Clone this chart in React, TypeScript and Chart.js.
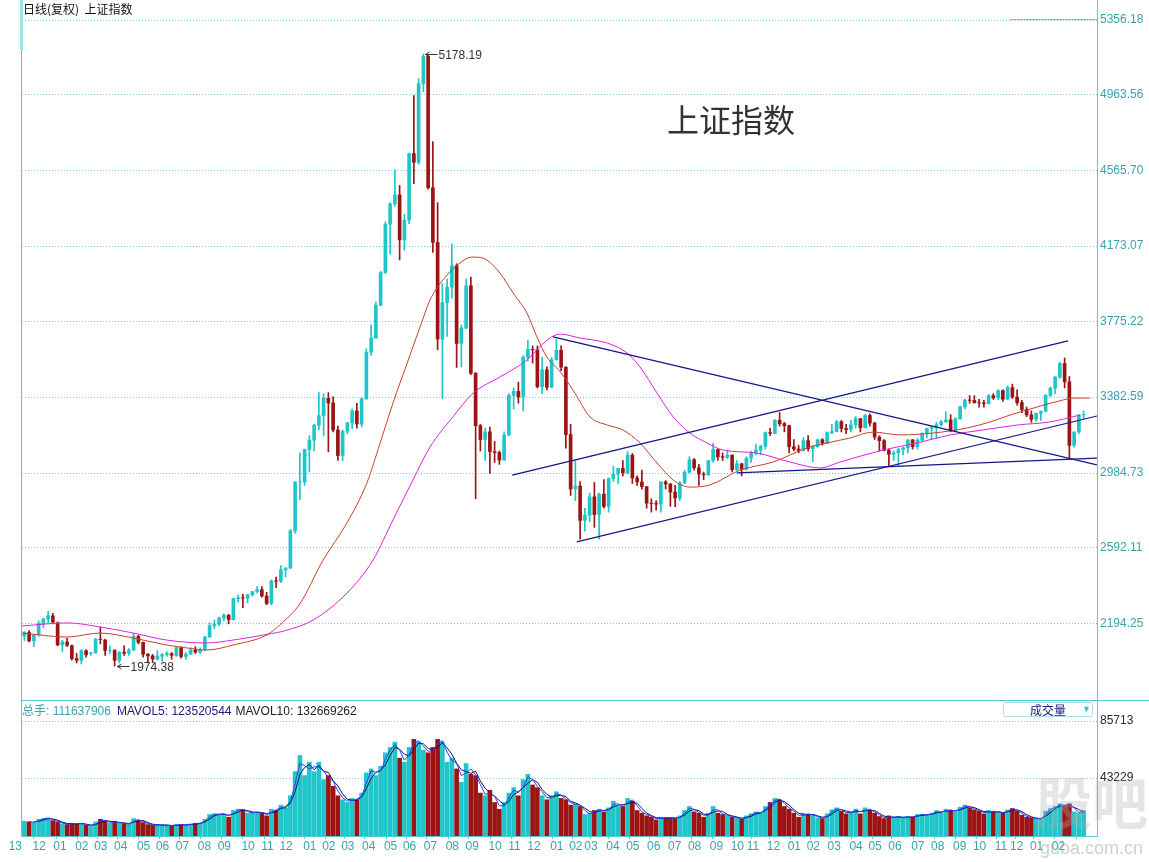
import React, { useEffect, useRef } from 'react';
import { Chart, registerables } from 'chart.js';
Chart.register(...registerables);

// ---- weekly candles (Oct 2013 - Feb 2018) ----
const OPEN = [
  2131,2150,2106,2140,2195,2220,2237,2200,2085,2100,
  2080,2013,2004,2054,2040,2045,2115,2110,2056,2057,
  2004,2047,2041,2058,2130,2098,2036,2027,2011,2026,
  2034,2039,2030,2070,2024,2036,2059,2047,2059,2126,
  2185,2194,2226,2240,2217,2327,2331,2329,2347,2364,
  2374,2341,2302,2420,2418,2478,2487,2682,2937,2938,
  3108,3157,3235,3285,3376,3351,3210,3076,3203,3247,
  3310,3241,3373,3617,3691,3863,4034,4287,4393,4441,
  4205,4308,4657,4611,5023,5166,4478,4192,3686,3877,
  3957,4070,3663,3744,3965,3507,3232,3160,3200,3097,
  3092,3053,3183,3391,3412,3383,3590,3632,3630,3436,
  3525,3434,3578,3627,3539,3186,2901,2916,2737,2763,
  2860,2767,2874,2810,2955,2979,3009,2985,3078,2959,
  2938,2913,2827,2825,2822,2938,2927,2885,2854,2932,
  2988,3054,3012,2979,2976,3050,3108,3070,3067,3078,
  3002,3033,3004,3063,3090,3104,3125,3196,3192,3261,
  3243,3232,3122,3110,3103,3154,3112,3123,3159,3140,
  3196,3202,3253,3218,3212,3237,3269,3222,3286,3246,
  3173,3154,3103,3083,3090,3107,3117,3158,3123,3157,
  3192,3217,3222,3237,3253,3262,3208,3268,3331,3367,
  3365,3353,3352,3348,3390,3378,3416,3371,3432,3382,
  3353,3317,3289,3266,3297,3307,3391,3429,3487,3558,
  3462,3129,3199,3289
];
const HIGH = [
  2155,2160,2140,2210,2225,2260,2250,2205,2110,2120,
  2085,2040,2060,2060,2045,2120,2177,2115,2080,2060,
  2050,2080,2065,2146,2135,2100,2040,2035,2055,2040,
  2050,2045,2075,2075,2045,2070,2075,2070,2130,2200,
  2215,2230,2248,2245,2330,2345,2350,2350,2365,2390,
  2390,2360,2425,2440,2500,2490,2690,2940,3090,3110,
  3180,3240,3406,3400,3406,3384,3230,3210,3250,3320,
  3350,3380,3635,3760,3880,4040,4300,4400,4572,4490,
  4340,4660,4960,5050,5178.19,5175,4720,4400,3975,4000,
  4185,4080,3760,4000,4010,3510,3240,3220,3225,3150,
  3100,3200,3400,3430,3460,3600,3680,3650,3650,3590,
  3540,3590,3685,3650,3540,3240,3050,2940,2800,2880,
  2935,2880,2950,2960,3020,3010,3050,3097,3087,2970,
  3000,2915,2850,2840,2940,2945,2930,2920,2940,3000,
  3070,3060,3030,2990,3050,3140,3110,3090,3100,3080,
  3050,3035,3070,3100,3135,3130,3200,3220,3265,3301,
  3250,3235,3160,3130,3170,3180,3130,3160,3165,3200,
  3240,3260,3260,3240,3260,3280,3270,3290,3295,3250,
  3180,3160,3110,3100,3115,3120,3160,3160,3165,3195,
  3220,3230,3250,3260,3305,3290,3275,3335,3370,3390,
  3390,3370,3365,3395,3400,3420,3420,3440,3450,3420,
  3365,3330,3310,3300,3310,3395,3435,3490,3566,3587,
  3490,3200,3290,3310
];
const LOW = [
  2108,2100,2075,2130,2175,2200,2195,2080,2050,2075,
  2005,1990,1985,2020,2030,2040,2090,2030,2040,1974.38,
  1990,2030,2030,2055,2090,2020,1990,1991,2005,1998,
  2025,2010,2025,2015,2010,2035,2040,2040,2055,2125,
  2170,2185,2210,2195,2215,2310,2280,2305,2340,2355,
  2335,2295,2295,2385,2410,2440,2485,2670,2845,2920,
  2990,3100,3210,3180,3095,3200,3050,3050,3190,3215,
  3220,3225,3370,3600,3690,3860,4030,4130,4380,4100,
  4150,4290,4500,4600,4980,4470,4140,3630,3374,3700,
  3900,3537,3540,3740,3500,2850,3100,3050,2983,3040,
  3030,3050,3180,3320,3350,3310,3570,3560,3430,3400,
  3420,3430,3575,3520,3115,2867,2840,2638,2680,2730,
  2700,2638,2800,2780,2940,2930,2970,2980,2930,2920,
  2900,2800,2780,2790,2780,2900,2810,2808,2840,2930,
  2985,3000,2920,2950,2970,3040,3050,3050,3060,2990,
  2995,2970,3000,3040,3080,3080,3110,3180,3190,3230,
  3200,3090,3100,3090,3100,3100,3044,3120,3130,3140,
  3190,3200,3200,3190,3200,3220,3200,3220,3230,3160,
  3100,3100,3016,3050,3022,3080,3090,3110,3110,3150,
  3170,3160,3165,3230,3250,3200,3200,3265,3320,3350,
  3350,3330,3330,3345,3370,3370,3360,3370,3375,3340,
  3300,3280,3250,3255,3260,3305,3385,3400,3480,3430,
  3062,3120,3190,3270
];
const CLOSE = [
  2149,2106,2135,2197,2220,2237,2204,2085,2101,2083,
  2013,2004,2054,2033,2044,2115,2113,2056,2057,2004,
  2047,2041,2058,2130,2098,2036,2027,2011,2026,2034,
  2039,2030,2070,2024,2036,2059,2047,2059,2126,2185,
  2194,2226,2240,2217,2327,2331,2329,2347,2364,2374,
  2341,2302,2420,2418,2478,2487,2682,2937,2938,3108,
  3157,3235,3285,3376,3351,3210,3076,3203,3247,3310,
  3241,3373,3617,3691,3863,4034,4287,4393,4441,4205,
  4308,4657,4611,5023,5166,4478,4192,3686,3877,3957,
  4070,3663,3744,3965,3507,3232,3160,3200,3097,3092,
  3053,3183,3391,3412,3383,3590,3632,3630,3436,3525,
  3434,3578,3627,3539,3186,2901,2916,2737,2763,2860,
  2767,2874,2810,2955,2979,3009,2985,3078,2959,2938,
  2913,2827,2825,2822,2938,2927,2885,2854,2932,2988,
  3054,3012,2979,2976,3050,3108,3070,3067,3078,3002,
  3033,3004,3063,3090,3104,3125,3196,3192,3261,3243,
  3232,3122,3110,3103,3154,3112,3123,3159,3140,3196,
  3202,3253,3218,3212,3237,3269,3222,3286,3246,3173,
  3154,3103,3083,3090,3107,3117,3158,3123,3157,3192,
  3217,3222,3237,3253,3262,3208,3268,3331,3367,3365,
  3353,3352,3348,3390,3378,3416,3371,3432,3382,3353,
  3317,3289,3266,3297,3307,3391,3429,3487,3558,3462,
  3129,3199,3289,3292
];
const VOLUME = [
  11000,10500,10000,12500,13000,13500,11500,10500,9000,8500,
  9500,9000,9500,8000,7000,10500,12500,11000,9500,11000,
  9500,9000,9000,13000,11500,10000,8500,8000,8500,8000,
  8000,7500,8500,8500,8000,9000,9500,9500,12500,16000,
  16500,16000,16500,14000,19000,20000,19500,17000,17500,18000,
  17000,15000,20000,19000,23000,21000,30000,48000,60000,45000,
  55000,48000,55000,42000,45000,37000,30000,27000,25000,28000,
  27000,32000,47000,50000,45000,52000,62000,66000,70000,58000,
  55000,66000,72000,70000,64000,62000,66000,72000,70000,55000,
  58000,50000,40000,54000,46000,45000,32000,30000,34000,25000,
  20000,25000,32000,36000,30000,42000,46000,38000,36000,30000,
  27000,30000,33000,28000,27000,23000,24000,22000,16000,17000,
  19000,20000,18000,21000,26000,22000,22000,28000,26000,19000,
  17000,15000,14000,12000,14000,13500,13500,13000,15000,19000,
  22000,18000,17000,14000,17000,22000,17000,16000,15000,14000,
  13500,12500,15000,16500,18000,17000,22000,25000,28000,27000,
  22000,20000,17000,14000,17000,16000,15500,13500,13000,16500,
  19500,21000,18500,16500,18000,20000,16500,21000,19000,17000,
  14500,13000,15000,13500,14500,13500,14500,14000,16000,16000,
  15500,17000,19000,17000,20000,19000,18000,21500,23000,21000,
  19500,18500,16500,19000,18000,17500,17000,19500,20500,18500,
  15500,14000,13500,12500,13000,18500,20500,22000,24000,22000,
  24000,18000,17000,19000
];

// ---- moving averages (week index -> price) ----
const MA_RED_WEEK = [-0.5,9.0,15.9,22.9,30.0,34.2,38.4,43.9,51.1,53.8,58.0,62.9,67.9,72.1,74.9,77.6,80.6,83.3,85.4,88.1,91.7,94.2,96.5,100.1,102.9,105.8,107.9,110.0,112.8,115.5,119.1,122.7,126.0,129.6,133.2,136.6,140.1,144.3,150.7,157.6,164.8,173.8,178.7,184.3,191.3,198.4,203.3,207.5,213.2,218.7,221.2,224.3];
const MA_RED_VALUE = [2147,2126,2147,2121,2084,2069,2058,2084,2138,2190,2300,2529,2723,2932,3142,3351,3561,3749,3890,3995,4084,4115,4110,4032,3927,3822,3697,3592,3515,3419,3278,3236,3210,3142,3037,2948,2911,2922,3000,3042,3116,3168,3199,3184,3194,3220,3252,3288,3330,3367,3377,3377];
const MA_PINK_WEEK = [-0.5,9.0,15.9,22.9,30.0,38.4,43.9,51.1,55.0,60.8,67.9,73.4,77.6,81.8,85.4,90.2,94.5,100.1,105.8,110.0,112.8,117.0,122.7,126.9,129.6,133.2,136.6,140.1,143.7,147.1,154.2,161.2,167.5,171.7,180.8,187.9,194.9,201.8,209.0,215.9,222.2];
const MA_PINK_VALUE = [2184,2200,2179,2147,2110,2095,2110,2140,2160,2215,2356,2529,2739,2948,3121,3278,3403,3487,3576,3680,3712,3691,3665,3613,3540,3403,3278,3194,3142,3105,3089,3042,3011,3042,3105,3142,3184,3210,3236,3252,3288];

// ---- hand-drawn trend lines ----
const TREND_START_WEEK = [111.3, 116.3, 102.7, 150.0];
const TREND_START_PRICE = [3697, 2624, 2974, 2985];
const TREND_END_WEEK = [225.8, 225.8, 219.7, 225.8];
const TREND_END_PRICE = [3027, 3283, 3676, 3063];

// ---- marked extremes ----
const MARK_WEEK = [84, 19];
const MARK_PRICE = [5178.19, 1974.38];

// ---- axes ----
const PRICE_TICKS = [5356.18, 4963.56, 4565.70, 4173.07, 3775.22, 3382.59, 2984.73, 2592.11, 2194.25];
const VOLUME_TICKS = [85713, 43229];
const MONTH_LABELS = ['13','12',
  '01','02','03','04','05','06','07','08','09','10','11','12',
  '01','02','03','04','05','06','07','08','09','10','11','12',
  '01','02','03','04','05','06','07','08','09','10','11','12',
  '01','02','03','04','05','06','07','08','09','10','11','12',
  '01','02'];
const MONTH_START = [-0.5,4.5,
  8.9,13.5,17.5,21.7,26.5,30.5,34.7,39.3,43.5,48.5,52.5,56.5,
  61.5,65.5,69.5,73.9,78.5,82.5,86.9,91.5,95.7,100.5,104.5,108.7,
  113.5,117.5,120.7,125.3,129.5,133.9,138.3,142.5,147.1,151.5,154.7,159.1,
  163.5,167.5,171.9,176.5,180.5,184.7,189.5,193.7,198.3,202.5,206.9,210.3,
  214.5,219.1];

const X_MIN = -0.5;
const X_MAX = 225.816;
const PRICE_MIN = 1796.39;
const PRICE_MAX = 5460.88;
const VOLUME_MAX = 99129;

const UP = '#1ec6c9';
const DOWN = '#9b1313';
const TEAL = '#3aa3ae';
const GRID = '#7fd0d6';
const AXIS = '#56ccd6';
const LATIN = '"Liberation Sans", Arial, sans-serif';
const CJK = '"Noto Sans CJK SC", "Liberation Sans", sans-serif';

const movingAverage = (values: number[], n: number) =>
  values.map((_, i) => {
    if (i < n - 1) return null;
    let s = 0;
    for (let k = 0; k < n; k++) s += values[i - k];
    return s / n;
  });

const noPadding = (s: any) => {
  s.paddingTop = 0;
  s.paddingBottom = 0;
  s.paddingLeft = 0;
  s.paddingRight = 0;
};

export default function App() {
  const priceRef = useRef<HTMLCanvasElement>(null);
  const volRef = useRef<HTMLCanvasElement>(null);

  useEffect(() => {
    const colors = CLOSE.map((c, i) => (c >= OPEN[i] ? UP : DOWN));
    const weeks = CLOSE.map((_, i) => i);

    const markPlugin = {
      id: 'marks',
      afterDatasetsDraw(chart: any) {
        const { ctx } = chart;
        const x = chart.scales.x;
        const y = chart.scales.y;
        ctx.save();
        ctx.strokeStyle = '#333';
        ctx.fillStyle = '#333';
        ctx.lineWidth = 1;
        ctx.font = `12px ${LATIN}`;
        ctx.textBaseline = 'middle';
        ctx.textAlign = 'left';
        MARK_WEEK.forEach((w, i) => {
          const px = Math.round(x.getPixelForValue(w)) + 2.5;
          const py = Math.round(y.getPixelForValue(MARK_PRICE[i])) + 0.5;
          ctx.beginPath();
          ctx.moveTo(px, py);
          ctx.lineTo(px + 12, py);
          ctx.moveTo(px + 4, py - 2.5);
          ctx.lineTo(px, py);
          ctx.lineTo(px + 4, py + 2.5);
          ctx.stroke();
          ctx.fillText(MARK_PRICE[i].toFixed(2), px + 13, py + 1);
        });
        ctx.restore();
      },
    };

    const trendSets = TREND_START_WEEK.map((w, i) => ({
      type: 'line',
      data: [
        { x: w, y: TREND_START_PRICE[i] },
        { x: TREND_END_WEEK[i], y: TREND_END_PRICE[i] },
      ],
      borderColor: '#15158a',
      borderWidth: 1.2,
      pointRadius: 0,
      tension: 0,
      order: 0,
    }));

    const priceChart = new Chart(priceRef.current!, {
      type: 'bar',
      data: {
        datasets: [
          ...trendSets,
          {
            type: 'line',
            data: MA_RED_WEEK.map((w, i) => ({ x: w, y: MA_RED_VALUE[i] })),
            borderColor: '#c8402a',
            borderWidth: 1,
            pointRadius: 0,
            cubicInterpolationMode: 'monotone',
            order: 1,
          },
          {
            type: 'line',
            data: MA_PINK_WEEK.map((w, i) => ({ x: w, y: MA_PINK_VALUE[i] })),
            borderColor: '#dd22dd',
            borderWidth: 1,
            pointRadius: 0,
            cubicInterpolationMode: 'monotone',
            order: 1,
          },
          {
            type: 'bar',
            data: weeks.map((i) => ({ x: i, y: [OPEN[i], CLOSE[i]] })),
            backgroundColor: colors,
            barThickness: 3,
            grouped: false,
            order: 2,
          },
          {
            type: 'bar',
            data: weeks.map((i) => ({ x: i, y: [LOW[i], HIGH[i]] })),
            backgroundColor: colors,
            barThickness: 1,
            grouped: false,
            order: 3,
          },
        ],
      } as any,
      options: {
        responsive: false,
        animation: false,
        events: [],
        layout: { padding: { left: 22, right: 0, top: 0, bottom: 0 } },
        plugins: { legend: { display: false }, tooltip: { enabled: false } },
        scales: {
          x: { type: 'linear', min: X_MIN, max: X_MAX, offset: false, display: false },
          y: {
            type: 'linear',
            position: 'right',
            min: PRICE_MIN,
            max: PRICE_MAX,
            afterBuildTicks: (s: any) => {
              s.ticks = PRICE_TICKS.map((v) => ({ value: v }));
            },
            afterFit: (s: any) => {
              s.width = 52;
              noPadding(s);
            },
            grid: { color: GRID, lineWidth: 1, drawTicks: false },
            border: { display: false, dash: [1, 2] },
            ticks: {
              color: TEAL,
              padding: 3,
              font: { family: LATIN, size: 12 },
              callback: (v: any) => Number(v).toFixed(2),
            },
          },
        },
      } as any,
      plugins: [markPlugin],
    });

    const volChart = new Chart(volRef.current!, {
      type: 'bar',
      data: {
        datasets: [
          {
            type: 'line',
            data: movingAverage(VOLUME, 2).map((v, i) => ({ x: i, y: v })),
            borderColor: '#2a3cff',
            borderWidth: 1,
            pointRadius: 0,
            order: 0,
          },
          {
            type: 'line',
            data: movingAverage(VOLUME, 3).map((v, i) => ({ x: i, y: v })),
            borderColor: '#121250',
            borderWidth: 1,
            pointRadius: 0,
            order: 1,
          },
          {
            type: 'bar',
            data: weeks.map((i) => ({ x: i, y: VOLUME[i] })),
            backgroundColor: colors,
            barThickness: 4,
            grouped: false,
            order: 2,
          },
        ],
      } as any,
      options: {
        responsive: false,
        animation: false,
        events: [],
        layout: { padding: { left: 22, right: 0, top: 3, bottom: 0 } },
        plugins: { legend: { display: false }, tooltip: { enabled: false } },
        scales: {
          x: {
            type: 'linear',
            min: X_MIN,
            max: X_MAX,
            offset: false,
            afterBuildTicks: (s: any) => {
              s.ticks = MONTH_START.map((v) => ({ value: v }));
            },
            afterFit: (s: any) => {
              s.height = 26;
              noPadding(s);
            },
            grid: { drawOnChartArea: false, drawTicks: true, tickLength: 3, color: AXIS },
            border: { display: false },
            ticks: {
              autoSkip: false,
              maxRotation: 0,
              minRotation: 0,
              align: 'end',
              padding: 0,
              color: TEAL,
              font: { family: LATIN, size: 12 },
              callback: (_v: any, i: number) => MONTH_LABELS[i],
            },
          },
          y: {
            type: 'linear',
            position: 'right',
            min: 0,
            max: VOLUME_MAX,
            afterBuildTicks: (s: any) => {
              s.ticks = VOLUME_TICKS.map((v) => ({ value: v }));
            },
            afterFit: (s: any) => {
              s.width = 52;
              noPadding(s);
            },
            grid: { color: GRID, lineWidth: 1, drawTicks: false },
            border: { display: false, dash: [1, 2] },
            ticks: {
              color: '#2a2a2a',
              padding: 3,
              font: { family: LATIN, size: 12 },
              callback: (v: any) => String(v),
            },
          },
        },
      } as any,
    });

    return () => {
      priceChart.destroy();
      volChart.destroy();
    };
  }, []);

  const abs = (s: React.CSSProperties): React.CSSProperties => ({ position: 'absolute', ...s });

  return (
    <div style={abs({ left: 0, top: 0, width: 1149, height: 862, background: '#fff', overflow: 'hidden' })}>
      <canvas ref={priceRef} width={1149} height={700} style={abs({ left: 0, top: 0, display: 'block' })} />
      <canvas ref={volRef} width={1149} height={162} style={abs({ left: 0, top: 700, display: 'block' })} />

      {/* frame lines */}
      <div style={abs({ left: 21, top: 0, width: 1, height: 836, background: AXIS })} />
      <div style={abs({ left: 20, top: 0, width: 3, height: 50, background: '#9ee6ee' })} />
      <div style={abs({ left: 1097, top: 0, width: 1, height: 836, background: AXIS })} />
      <div style={abs({ left: 21, top: 700, width: 1128, height: 1, background: AXIS })} />
      <div style={abs({ left: 21, top: 836, width: 1077, height: 1, background: AXIS })} />
      <div style={abs({ left: 1010, top: 19, width: 87, height: 1, background: '#5ccfd3' })} />

      {/* titles */}
      <div style={abs({ left: 23, top: 2, font: `12px ${CJK}`, lineHeight: '14px', color: '#111', whiteSpace: 'pre' })}>
        日线(复权)  上证指数
      </div>
      <div style={abs({ left: 667, top: 100, font: `32px ${CJK}`, lineHeight: '36px', color: '#333', whiteSpace: 'pre' })}>
        上证指数
      </div>

      {/* volume header */}
      <div style={abs({ left: 22, top: 703, font: `12px ${LATIN}`, lineHeight: '14px', whiteSpace: 'pre' })}>
        <span style={{ color: TEAL, fontFamily: CJK }}>总手</span>
        <span style={{ color: TEAL }}>: 111637906</span>
        <span style={{ color: '#17177e', marginLeft: 6 }}>MAVOL5: 123520544</span>
        <span style={{ color: '#222', marginLeft: 4 }}>MAVOL10: 132669262</span>
      </div>
      <div style={abs({ left: 1003, top: 702, width: 90, height: 15, border: '1px solid #a5e3e8', borderRadius: 3, boxSizing: 'border-box' })}>
        <span style={abs({ left: 26, top: 0, font: `12px ${CJK}`, lineHeight: '13px', color: '#17177e' })}>成交量</span>
        <span style={abs({ left: 78, top: 0, font: `9px ${LATIN}`, lineHeight: '13px', color: '#33c4c8' })}>▼</span>
      </div>

      {/* watermark */}
      <div style={abs({ left: 1036, top: 768, font: `bold 56px ${CJK}`, lineHeight: '64px', color: 'rgba(175,175,175,0.32)', whiteSpace: 'pre' })}>
        股吧
      </div>
      <div style={abs({ left: 1040, top: 838, font: `18px ${LATIN}`, lineHeight: '20px', color: 'rgba(160,160,160,0.5)', whiteSpace: 'pre' })}>
        guba.com.cn
      </div>
    </div>
  );
}
